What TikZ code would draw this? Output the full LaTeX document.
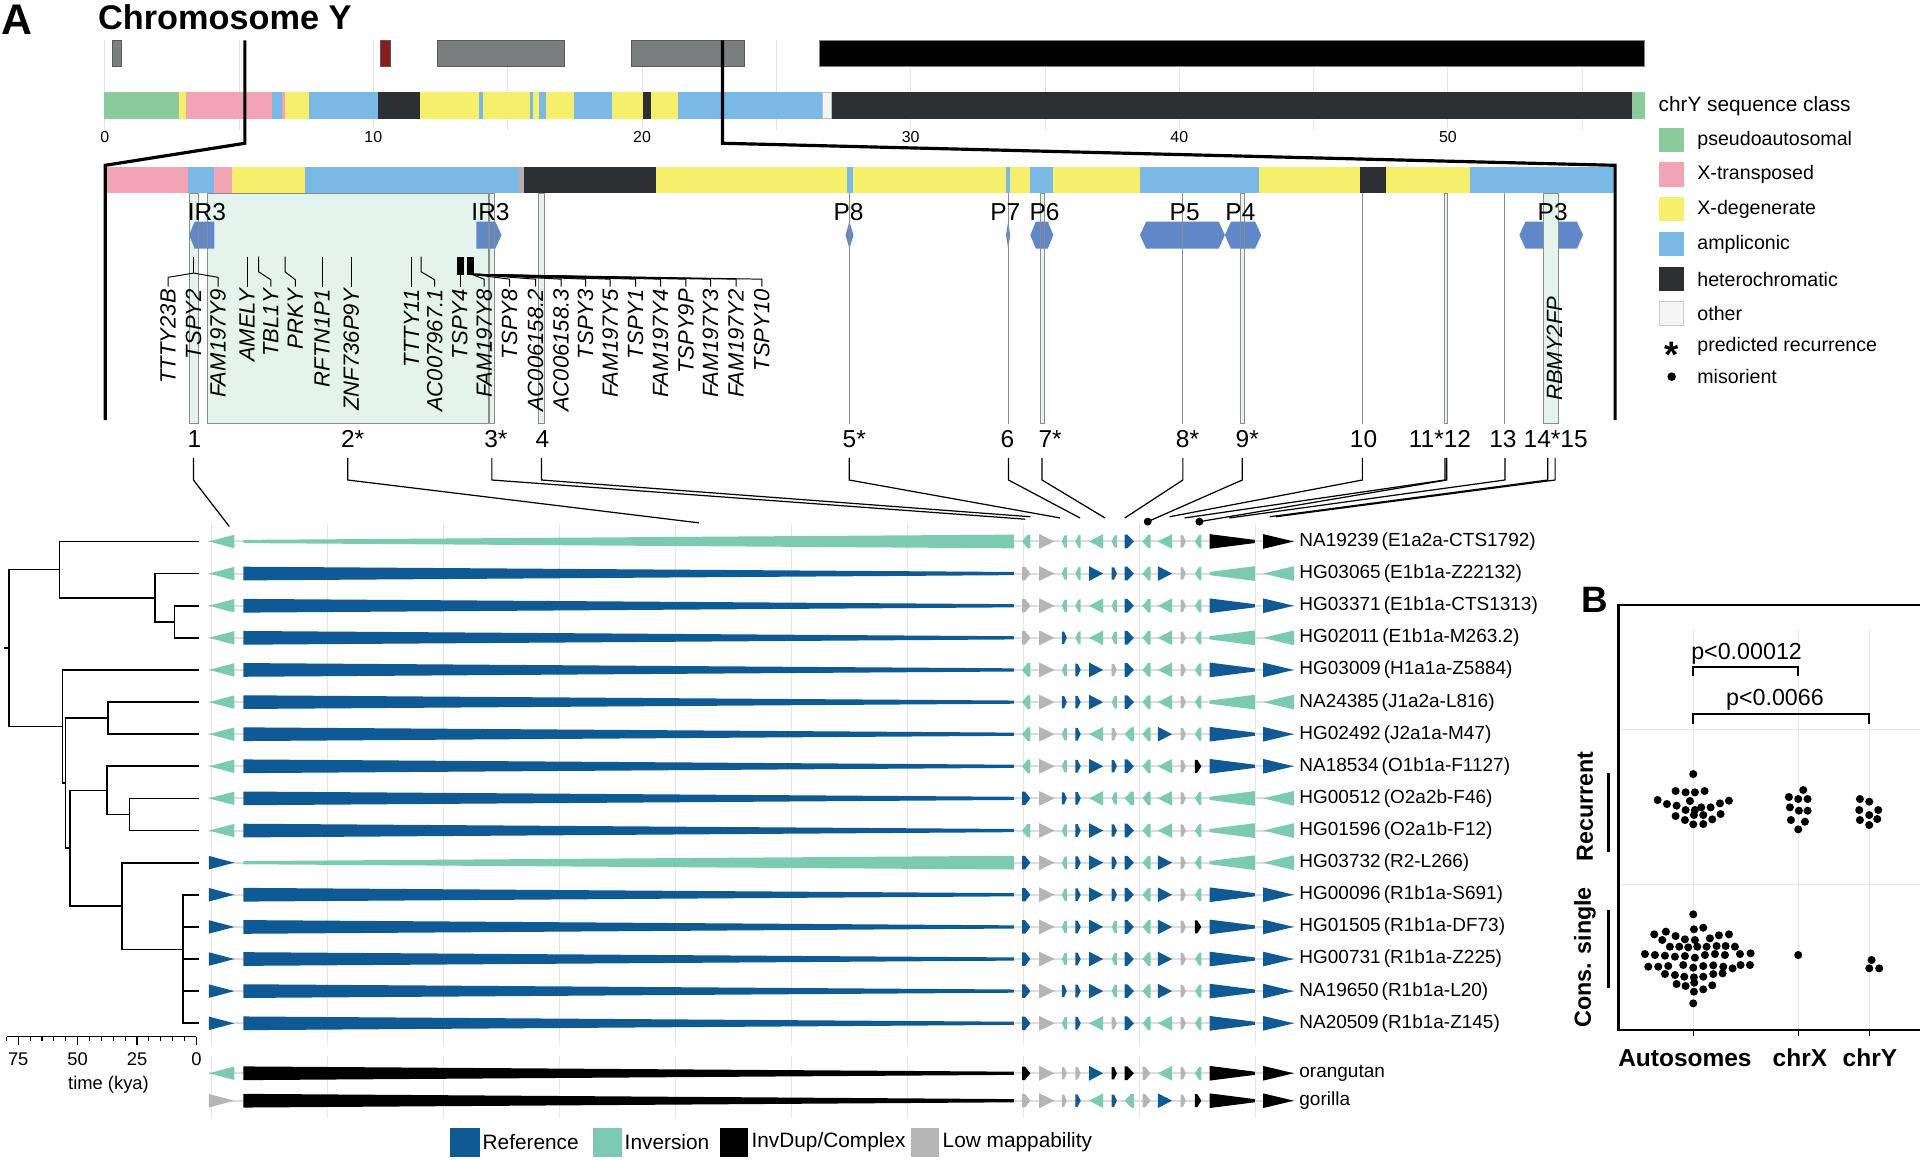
\documentclass[tikz,border=0pt]{standalone}
\usepackage{fontspec}
\setmainfont{Liberation Sans}
\definecolor{cPA}{HTML}{8CCC9C}
\definecolor{cXT}{HTML}{F0A4B4}
\definecolor{cXD}{HTML}{F6EF6C}
\definecolor{cAM}{HTML}{7AB9E6}
\definecolor{cHC}{HTML}{2C3033}
\definecolor{cOT}{HTML}{F5F5F5}
\definecolor{cOG}{HTML}{AFAFAF}
\definecolor{cB}{HTML}{0F5A94}
\definecolor{cG}{HTML}{7DCAB2}
\definecolor{cY}{HTML}{B5B5B5}
\definecolor{cK}{HTML}{000000}
\definecolor{cHex}{HTML}{6088C8}
\definecolor{cReg}{HTML}{E4F3EB}
\definecolor{cIdeo}{HTML}{7A7E7E}
\definecolor{cRed}{HTML}{8B1C1C}
\definecolor{cGrid}{HTML}{E6E6E6}
\definecolor{cBack}{HTML}{DDDDDD}
\tikzset{
 gridl/.style={draw=cGrid, line width=0.8pt},
 ideo/.style={fill=cIdeo, draw=black!65, line width=0.7pt},
 zoomline/.style={line width=2.6pt, black},
 regb/.style={draw=black!45, line width=0.7pt},
 hexl/.style={font=\fontsize{20}{20}\selectfont, inner sep=0pt},
 gene/.style={rotate=90, anchor=east, inner sep=0pt, font=\fontsize{18}{18}\selectfont\itshape},
 lead/.style={line width=0.8pt},
 numlab/.style={font=\fontsize{20}{20}\selectfont, inner sep=0pt},
 fan/.style={line width=1pt},
 dotm/.style={circle, fill=black, inner sep=0pt, minimum size=6.5pt},
 backbone/.style={draw=cBack, line width=1.6pt},
 samp/.style={anchor=west, inner sep=0pt, font=\fontsize{15.5}{16}\selectfont},
 tree/.style={line width=1.4pt, line cap=rect},
 legt/.style={anchor=west, inner sep=0pt, font=\fontsize{16}{16}\selectfont},
 legb/.style={anchor=west, inner sep=0pt, font=\fontsize{17}{17}\selectfont},
 ticklab/.style={inner sep=0pt, font=\fontsize{13}{13}\selectfont},
 timelab/.style={inner sep=0pt, font=\fontsize{15}{15}\selectfont},
 bold/.style={inner sep=0pt, font=\bfseries\fontsize{20}{20}\selectfont},
 plab/.style={inner sep=0pt, font=\fontsize{19}{19}\selectfont},
 bdot/.style={fill=black},
}
\def\colXa{{834.7,848.7,867.2,878.2,889.4,907.9,918.4,933.1,945.6,964.2,975.9,987.8,1031.5}}
\def\colXb{{841.5,861.2,871.2,882.6,900.9,912.1,926,939.6,957.2,968.4,981.1,1024.7,1056.6}}
\def\colH{{5.5,6,5,5.2,6,5,5.6,5.5,6,5,5.3,6,6}}
\def\colF{{0.35,0,0.45,0.4,0,0.45,0.3,0.3,0,0.45,0.35,0,0}}
\newcommand\myarrR[7]{\fill[fill=#5] (#1,#3-#4) -- ({#1+(#2-#1)*#7},#3-#4) -- (#2,#3-#6) -- (#2,#3+#6) -- ({#1+(#2-#1)*#7},#3+#4) -- (#1,#3+#4) -- cycle;}
\newcommand\myarrL[7]{\fill[fill=#5] (#2,#3-#4) -- ({#2-(#2-#1)*#7},#3-#4) -- (#1,#3-#6) -- (#1,#3+#6) -- ({#2-(#2-#1)*#7},#3+#4) -- (#2,#3+#4) -- cycle;}
\newcommand\rowdraw[6]{%
 \draw[backbone] (170.6,#1) -- (1056.6,#1);
 \csname myarr#3\endcsname{170.6}{191.4}{#1}{5.5}{c#2}{0}{0}%
 \csname myarr#5\endcsname{198.7}{828}{#1}{5.6}{c#4}{1.3}{0}%
 \foreach \cl/\dr [count=\i] in {#6} {%
  \pgfmathsetmacro\xA{\colXa[\i-1]}%
  \pgfmathsetmacro\xB{\colXb[\i-1]}%
  \pgfmathsetmacro\hA{\colH[\i-1]}%
  \pgfmathsetmacro\fA{\colF[\i-1]}%
  \pgfmathsetmacro\tA{\i==12 ? 1.3 : 0}%
  \csname myarr\dr\endcsname{\xA}{\xB}{#1}{\hA}{c\cl}{\tA}{\fA}%
 }%
}
\newcommand\hexa[3]{\fill[cHex] (#1,192) -- (#1+#3,181) -- (#2-#3,181) -- (#2,192) -- (#2-#3,203) -- (#1+#3,203) -- cycle;}
\begin{document}
\begin{tikzpicture}[x=1pt,y=-1pt]
\useasboundingbox (0,0) rectangle (1568,947);
\fill[white] (0,0) rectangle (1568,947);
% ---------- titles
\node[inner sep=0pt, font=\bfseries\fontsize{35}{35}\selectfont] (lblA) at (14,16) {A};
\node[anchor=west, inner sep=0pt, font=\bfseries\fontsize{28}{28}\selectfont] (title) at (80,14) {Chromosome Y};
% ---------- top grid
\foreach \k in {0,...,11} \draw[gridl] ({85.5+109.7*\k},33) -- ({85.5+109.7*\k},106);
% ideogram
\draw[ideo] (91.5,33) rectangle (99,54);
\draw[ideo, fill=cRed] (311,33) rectangle (319,54);
\draw[ideo] (357.5,33) rectangle (461,54);
\draw[ideo] (516,33) rectangle (608,54);
\draw[fill=black, draw=black!50, line width=0.7pt] (669,33) rectangle (1343,54);
% whole chromosome classes
\foreach \a/\b/\c in {85/146/cPA,146/152/cXD,152/222.5/cXT,222.5/230.5/cAM,230.5/233/cXT,233/252/cXD,252/308.5/cAM,308.5/343/cHC,343/391.5/cXD,391.5/394.5/cAM,394.5/433/cXD,433/435/cAM,435/440/cXD,440/446/cAM,446/468.5/cXD,468.5/500/cAM,500/525.5/cXD,525.5/531.5/cHC,531.5/553.5/cXD,553.5/671/cAM,679/1333/cHC,1333/1343/cPA}
  \fill[fill=\c] (\a,75) rectangle (\b,97);
\draw[fill=cOT, draw=black!25, line width=0.6pt] (671.3,75.3) rectangle (678.7,96.7);
\foreach \k/\t in {0/0,1/10,2/20,3/30,4/40,5/50}
  \node[ticklab] (tk\k) at ({85.5+219.4*\k},111.5) {\t};
% ---------- detail bar
\foreach \a/\b/\c in {86.3/153.7/cXT,153.7/174.5/cAM,174.5/189.4/cXT,189.4/248.9/cXD,248.9/422.8/cAM,422.8/427.9/cOG,427.9/535.8/cHC,535.8/691.5/cXD,691.5/696.4/cAM,696.4/821.6/cXD,821.6/825/cAM,825/841.4/cXD,841.4/860.2/cAM,860.2/931/cXD,931/1028.5/cAM,1028.5/1111/cXD,1111/1132/cHC,1132/1200.2/cXD,1200.2/1318/cAM}
  \fill[fill=\c] (\a,136) rectangle (\b,158);
% zoom lines
\draw[zoomline] (200,33) -- (200,117) -- (86,135) -- (86,343);
\draw[zoomline] (590,33) -- (590,117) -- (1319,135) -- (1319,343);
% regions fill
\foreach \a/\b in {154.4/161.7,169/399,400/403.5,440/444.3,849.3/852.8,1013/1016,1179.4/1182}
  \fill[cReg] (\a,158) rectangle (\b,346);
% hex arrows
\fill[cHex] (154.4,192) -- (159,181) -- (175,181) -- (175,203) -- (159,203) -- cycle;
\fill[cHex] (389,181) -- (404.5,181) -- (409.6,192) -- (404.5,203) -- (389,203) -- cycle;
\fill[cHex] (690.5,192) -- (693.7,181) -- (697,192) -- (693.7,203) -- cycle;
\fill[cHex] (821.6,192) -- (823.3,181) -- (825,192) -- (823.3,203) -- cycle;
\hexa{841.4}{860.2}{4.5}
\hexa{931}{1000.3}{5}
\hexa{1000.3}{1030}{5}
\hexa{1240.8}{1292.8}{5}
\fill[cReg] (1260.6,158) rectangle (1273,346);
% region borders
\foreach \a/\b in {154.4/161.7,169/399,400/403.5,440/444.3,849.3/852.8,1013/1016,1179.4/1182,1260.6/1273}
  \draw[regb] (\a,158) rectangle (\b,346);
\foreach \a in {693.5,823.6,966,1112.6,1229}
  \draw[regb] (\a,158) -- (\a,346);
% hex labels
\node[hexl] (ir3a) at (169,173) {IR3};
\node[hexl] (ir3b) at (400.6,173) {IR3};
\node[hexl] (p8) at (693,173) {P8};
\node[hexl] (p7) at (821,173) {P7};
\node[hexl] (p6) at (853,173) {P6};
\node[hexl] (p5) at (967.5,173) {P5};
\node[hexl] (p4) at (1013,173) {P4};
\node[hexl] (p3) at (1268,173) {P3};
% gene labels
\foreach \x/\t [count=\n] in {137.3/TTTY23B,158.1/TSPY2,178.1/FAM197Y9,201.8/AMELY,221.2/TBL1Y,241.2/PRKY,263.1/RFTN1P1,286.8/ZNF736P9Y,336/TTTY11,355/AC007967.1,375.4/TSPY4,395.4/FAM197Y8,416.2/TSPY8,437.4/AC006158.2,458.2/AC006158.3,478.2/TSPY3,498.3/FAM197Y5,519/TSPY1,539.5/FAM197Y4,560.2/TSPY9P,580.3/FAM197Y3,601.1/FAM197Y2,622.2/TSPY10}
  \node[gene] (gene\n) at (\x,236) {\t};
\node[gene] (geneR) at (1269.5,242) {RBMY2FP};
% leaders
\draw[lead] (158.1,209.6) -- (158.1,223);
\draw[lead] (137.3,234) -- (137.3,226.5) -- (158.1,223) -- (178.1,226.5) -- (178.1,234);
\foreach \x in {201.8,263.1,286.8,336} \draw[lead] (\x,209.6) -- (\x,234);
\draw[lead] (211.3,209.6) -- (211.3,222) -- (221.2,228.5) -- (221.2,234);
\draw[lead] (232.8,209.6) -- (232.8,222) -- (241.2,228.5) -- (241.2,234);
\draw[lead] (344,209.6) -- (344,222) -- (355,228.5) -- (355,234);
\fill (373.2,209.6) rectangle (379,224.7);
\fill (381.6,209.6) rectangle (387,224.7);
\draw[lead] (376,224) -- (376,234);
\foreach \x in {395.4,416.2,437.4,458.2,478.2,498.3,519,539.5,560.2,580.3,601.1,622.2}
  \draw[lead] (385,224) -- (\x,228) -- (\x,234);
% number labels
\node[numlab] (n1) at (158.8,358.5) {1};
\node[numlab] (n2) at (288,358.5) {2*};
\node[numlab] (n3) at (405,358.5) {3*};
\node[numlab] (n4) at (443,358.5) {4};
\node[numlab] (n5) at (697.6,358.5) {5*};
\node[numlab] (n6) at (822.7,358.5) {6};
\node[numlab] (n7) at (857.6,358.5) {7*};
\node[numlab] (n8) at (969.8,358.5) {8*};
\node[numlab] (n9) at (1018.6,358.5) {9*};
\node[numlab] (n10) at (1113.6,358.5) {10};
\node[numlab] (n1112) at (1176,358.5) {11*12};
\node[numlab] (n13) at (1227.4,358.5) {13};
\node[numlab] (n1415) at (1270.5,358.5) {14*15};
% fan
\foreach \n/\xt/\xe/\ye in {1/158/187.3/430,2/284/570.8/427,3/401.7/837.3/424,4/442.2/841.4/422,5/693.5/865.8/423,6/823.6/882/423,7/851/902.4/423,8/966/918.6/423,9/1014.5/937.3/426,10/1112.6/955.2/422,11/1180/967.4/423,12/1181.5/979.5/426,13/1229/1003.9/423,14/1264/1037/422,15/1270/1042/422}
{
  \coordinate (t\n) at (\xt,374);
  \coordinate (e\n) at (\xe,\ye);
  \draw[fan] (t\n) -- ++(0,18) -- (e\n);
}
\node[dotm] (d9) at (e9) {};
\node[dotm] (d12) at (e12) {};
% ---------- arrow panel grid
\foreach \k in {0,...,9} {
  \draw[gridl] ({172.6+94.7*\k},428) -- ({172.6+94.7*\k},853);
  \draw[gridl] ({172.6+94.7*\k},862) -- ({172.6+94.7*\k},913);
}
% rows
\rowdraw{442.2}{G}{L}{G}{L}{G/L,Y/R,G/L,G/L,G/L,G/L,B/R,G/L,G/L,Y/R,G/L,K/R,K/R}
\rowdraw{468.4}{G}{L}{B}{R}{Y/R,Y/R,G/L,G/L,B/R,B/R,B/R,G/L,B/R,Y/R,G/L,G/L,G/L}
\rowdraw{494.7}{G}{L}{B}{R}{Y/R,Y/R,G/L,G/L,G/L,G/L,B/R,G/L,G/L,Y/R,G/L,B/R,B/R}
\rowdraw{520.9}{G}{L}{B}{R}{Y/R,Y/R,B/R,G/L,G/L,G/L,B/R,G/L,G/L,Y/R,G/L,G/L,G/L}
\rowdraw{547.1}{G}{L}{B}{R}{G/L,Y/R,G/L,B/R,B/R,Y/R,B/R,G/L,G/L,Y/R,G/L,B/R,B/R}
\rowdraw{573.4}{G}{L}{B}{R}{G/L,Y/R,B/R,B/R,B/R,G/L,B/R,G/L,G/L,Y/R,G/L,G/L,G/L}
\rowdraw{599.6}{G}{L}{B}{R}{G/L,Y/R,G/L,B/R,G/L,Y/R,G/L,G/L,B/R,Y/R,G/L,B/R,B/R}
\rowdraw{625.8}{G}{L}{B}{R}{G/L,Y/R,G/L,B/R,B/R,B/R,B/R,G/L,G/L,Y/R,K/R,B/R,B/R}
\rowdraw{652.0}{G}{L}{B}{R}{B/R,Y/R,B/R,B/R,G/L,G/L,G/L,G/L,G/L,Y/R,G/L,G/L,G/L}
\rowdraw{678.3}{G}{L}{B}{R}{G/L,Y/R,G/L,B/R,B/R,B/R,B/R,G/L,G/L,Y/R,G/L,G/L,G/L}
\rowdraw{704.5}{B}{R}{G}{L}{B/R,Y/R,G/L,B/R,B/R,B/R,B/R,G/L,B/R,Y/R,G/L,G/L,G/L}
\rowdraw{730.7}{B}{R}{B}{R}{B/R,Y/R,G/L,B/R,B/R,B/R,B/R,G/L,B/R,Y/R,G/L,B/R,B/R}
\rowdraw{757.0}{B}{R}{B}{R}{B/R,Y/R,G/L,B/R,B/R,G/L,B/R,G/L,B/R,Y/R,K/R,B/R,B/R}
\rowdraw{783.2}{B}{R}{B}{R}{B/R,Y/R,G/L,B/R,B/R,G/L,B/R,G/L,B/R,Y/R,G/L,B/R,B/R}
\rowdraw{809.4}{B}{R}{B}{R}{B/R,Y/R,B/R,B/R,B/R,G/L,B/R,G/L,B/R,Y/R,G/L,B/R,B/R}
\rowdraw{835.7}{B}{R}{B}{R}{B/R,Y/R,G/L,B/R,G/L,Y/R,B/R,G/L,G/L,Y/R,G/L,B/R,B/R}
\rowdraw{876.5}{G}{L}{K}{R}{K/R,Y/R,Y/R,Y/R,B/R,K/R,K/R,Y/R,G/L,Y/R,G/L,K/R,K/R}
\rowdraw{898.9}{Y}{R}{K}{R}{Y/R,Y/R,Y/R,B/R,G/L,B/R,G/L,Y/R,B/R,Y/R,K/R,K/R,K/R}
% sample labels
\foreach \y/\t [count=\n] in {442.2/{NA19239\,(E1a2a-CTS1792)},468.4/{HG03065\,(E1b1a-Z22132)},494.7/{HG03371\,(E1b1a-CTS1313)},520.9/{HG02011\,(E1b1a-M263.2)},547.1/{HG03009\,(H1a1a-Z5884)},573.4/{NA24385\,(J1a2a-L816)},599.6/{HG02492\,(J2a1a-M47)},625.8/{NA18534\,(O1b1a-F1127)},652.0/{HG00512\,(O2a2b-F46)},678.3/{HG01596\,(O2a1b-F12)},704.5/{HG03732\,(R2-L266)},730.7/{HG00096\,(R1b1a-S691)},757.0/{HG01505\,(R1b1a-DF73)},783.2/{HG00731\,(R1b1a-Z225)},809.4/{NA19650\,(R1b1a-L20)},835.7/{NA20509\,(R1b1a-Z145)},876.5/orangutan,898.9/gorilla}
  \node[samp] (s\n) at (1061,\y) {\t};
% ---------- tree
\draw[tree] (3.6,529.3) -- (7.3,529.3);
\draw[tree] (7.3,465.2) -- (7.3,593.4);
\draw[tree] (7.3,465.2) -- (48.5,465.2);
\draw[tree] (48.5,442.2) -- (48.5,488.1);
\draw[tree] (48.5,442.2) -- (161.5,442.2);
\draw[tree] (48.5,488.1) -- (126.5,488.1);
\draw[tree] (126.5,468.4) -- (126.5,507.8);
\draw[tree] (126.5,468.4) -- (161.5,468.4);
\draw[tree] (126.5,507.8) -- (142.6,507.8);
\draw[tree] (142.6,494.7) -- (142.6,520.9);
\draw[tree] (142.6,494.7) -- (161.5,494.7);
\draw[tree] (142.6,520.9) -- (161.5,520.9);
\draw[tree] (7.3,593.4) -- (51,593.4);
\draw[tree] (51,547.1) -- (51,639.6);
\draw[tree] (51,547.1) -- (161.5,547.1);
\draw[tree] (51,639.6) -- (53.6,639.6);
\draw[tree] (53.6,586.5) -- (53.6,692.7);
\draw[tree] (53.6,586.5) -- (88.2,586.5);
\draw[tree] (88.2,573.4) -- (88.2,599.6);
\draw[tree] (88.2,573.4) -- (161.5,573.4);
\draw[tree] (88.2,599.6) -- (161.5,599.6);
\draw[tree] (53.6,692.7) -- (57.2,692.7);
\draw[tree] (57.2,645.5) -- (57.2,739.9);
\draw[tree] (57.2,645.5) -- (87.5,645.5);
\draw[tree] (87.5,625.8) -- (87.5,665.2);
\draw[tree] (87.5,625.8) -- (161.5,625.8);
\draw[tree] (87.5,665.2) -- (105.7,665.2);
\draw[tree] (105.7,652.0) -- (105.7,678.3);
\draw[tree] (105.7,652.0) -- (161.5,652.0);
\draw[tree] (105.7,678.3) -- (161.5,678.3);
\draw[tree] (57.2,739.9) -- (99.5,739.9);
\draw[tree] (99.5,704.5) -- (99.5,775.3);
\draw[tree] (99.5,704.5) -- (161.5,704.5);
\draw[tree] (99.5,775.3) -- (149.5,775.3);
\draw[tree] (149.5,730.7) -- (149.5,835.7);
\foreach \y in {730.7,757.0,783.2,809.4,835.7} \draw[tree] (149.5,\y) -- (161.5,\y);
% time axis
\draw[line width=1pt] (5.5,846.6) -- (160.4,846.6);
\foreach \j in {0,...,16} \draw[line width=0.9pt] ({160.4-9.7*\j},846.6) -- ({160.4-9.7*\j},850);
\foreach \j/\t in {0/0,1/25,2/50,3/75} {
  \draw[line width=1pt] ({160.4-48.5*\j},846.6) -- ({160.4-48.5*\j},853);
  \node[timelab] (tl\j) at ({160.4-48.5*\j},865) {\t};
}
\node[timelab] (tkya) at (88.6,886) {time (kya)};
% ---------- bottom legend
\fill[cB] (367.9,921) rectangle (391.6,944.6);
\node[legb] (lref) at (394,933) {Reference};
\fill[cG] (484.2,921) rectangle (507.9,944.6);
\node[legb] (linv) at (510,933) {Inversion};
\fill[cK] (588.1,921) rectangle (611.1,944.6);
\node[legb] (ldup) at (613.6,933) {InvDup/Complex};
\fill[cY] (744.2,921) rectangle (767.1,944.6);
\node[legb] (llow) at (769.7,933) {Low mappability};
% ---------- right legend
\node[anchor=west, inner sep=0pt, font=\fontsize{17}{17}\selectfont] (lhead) at (1354.3,86.6) {chrY sequence class};
\foreach \y/\c/\t [count=\n] in {114.3/cPA/pseudoautosomal,142.6/cXT/X-transposed,170.8/cXD/X-degenerate,199.4/cAM/ampliconic,228/cHC/heterochromatic}{
  \fill[fill=\c] (1354.9,\y-10) rectangle (1375.5,\y+10);
  \node[legt] (lc\n) at (1386,\y) {\t};
}
\draw[fill=cOT, draw=black!20, line width=0.8pt] (1355.3,246.4) rectangle (1375.1,265.6);
\node[legt] (lc6) at (1386,256) {other};
\node[anchor=base, inner sep=0pt, font=\bfseries\fontsize{30}{30}\selectfont] (lstar) at (1365.2,300.5) {*};
\node[legt] (lc7) at (1386,283) {predicted recurrence};
\node[dotm, minimum size=7pt] (ldot) at (1365.2,307.6) {};
\node[legt] (lc8) at (1386,307.6) {misorient};
% ---------- panel B
\begin{scope}[shift={(1257.6,473.7)}, x=0.2722pt, y=-0.2722pt]
  \foreach \y in {448,912} \draw[gridl] (240,\y) -- (1140,\y);
  \foreach \x in {460,775,988} \draw[gridl] (\x,150) -- (\x,1350);
  \draw[line width=2.2pt] (1140,75) -- (235,75) -- (235,1350) -- (1140,1350);
  \foreach \x in {460,775,988} \draw[line width=1.2pt] (\x,1350) -- (\x,1368);
  \node[inner sep=0pt, font=\bfseries\fontsize{30}{30}\selectfont] (lblB) at (165,60) {B};
  \draw[line width=1.6pt] (460,288) -- (460,262) -- (775,262) -- (775,288);
  \draw[line width=1.6pt] (460,432) -- (460,403) -- (988,403) -- (988,432);
  \node[plab] (pv1) at (620,220) {p<0.00012};
  \node[plab] (pv2) at (705,360) {p<0.0066};
  \draw[line width=2.6pt] (205,580) -- (205,815);
  \draw[line width=2.6pt] (205,990) -- (205,1225);
  \node[bold, font=\bfseries\fontsize{19}{19}\selectfont, rotate=90] (yrec) at (135,680) {Recurrent};
  \node[bold, font=\bfseries\fontsize{19}{19}\selectfont, rotate=90] (ysing) at (135,1132) {Cons. single};
  \node[bold] (xa) at (435,1434) {Autosomes};
  \node[bold] (xx) at (780,1434) {chrX};
  \node[bold] (xy) at (990,1434) {chrY};
  \foreach \x/\y in {460/582,407/633,437/637,465/637,494/633,353/660,381/672,450/663,567/662,540/670,410/677,437/690,484/682,512/682,465/690,542/702,407/708,435/720,462/705,490/705,517/718,460/733,490/732,
    790/630,747/651,775/657,803/657,750/682,777/692,803/692,753/720,795/725,775/748,
    960/657,988/665,958/690,988/705,1015/690,960/720,1012/717,988/735,
    775/1125,995/1140,988/1165,1018/1165,
    460/1003,462/1048,490/1043,343/1063,378/1055,407/1068,537/1066,567/1063,
    367/1080,435/1078,465/1080,510/1075,
    390/1100,418/1100,445/1102,472/1100,500/1100,530/1098,557/1098,585/1100,
    315/1122,345/1125,375/1127,405/1130,435/1128,465/1133,495/1125,525/1122,555/1125,600/1122,632/1120,
    325/1160,355/1160,385/1158,430/1155,460/1163,490/1158,520/1156,550/1160,578/1165,602/1155,630/1155,
    375/1182,405/1185,433/1190,462/1192,490/1190,520/1182,548/1180,
    410/1212,437/1218,463/1208,490/1228,517/1216,462/1235,460/1270}
    \fill[bdot] (\x,\y) circle[radius=3.3pt];
\end{scope}
\end{tikzpicture}
\end{document}
